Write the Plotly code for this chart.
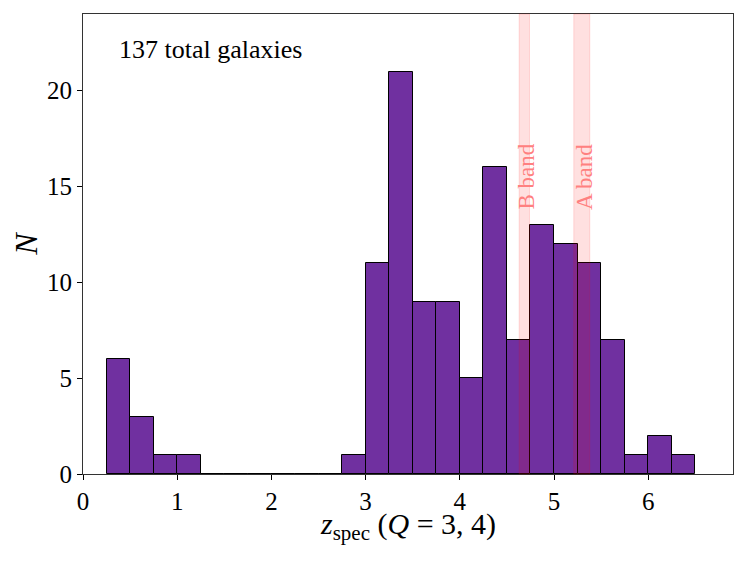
import plotly.graph_objects as go

# Histogram data (bin width 0.25)
bin_left = [0.25, 0.50, 0.75, 1.00, 1.25, 1.50, 1.75, 2.00, 2.25, 2.50, 2.75,
            3.00, 3.25, 3.50, 3.75, 4.00, 4.25, 4.50, 4.75, 5.00, 5.25, 5.50,
            5.75, 6.00, 6.25]
counts = [6, 3, 1, 1, 0, 0, 0, 0, 0, 0, 1,
          11, 21, 9, 9, 5, 16, 7, 13, 12, 11, 7,
          1, 2, 1]
bin_width = 0.25

# Telluric absorption bands (z range)
band_names = ["B band", "A band"]
band_lo = [4.63, 5.21]
band_hi = [4.74, 5.38]
band_label_x = [4.71, 5.33]
band_label_y = 15.5

x_ticks = [0, 1, 2, 3, 4, 5, 6]
y_ticks = [0, 5, 10, 15, 20]
total_text = f"{sum(counts)} total galaxies"

centers = [b + bin_width / 2 for b in bin_left]

fig = go.Figure()
fig.add_trace(go.Bar(
    x=centers, y=counts, width=bin_width,
    marker=dict(color="#7030A0", line=dict(color="#000000", width=1)),
    showlegend=False, hoverinfo="x+y",
))

serif = "Liberation Serif, Times New Roman, serif"

for lo, hi, name, lx in zip(band_lo, band_hi, band_names, band_label_x):
    fig.add_shape(type="rect", xref="x", yref="paper", x0=lo, x1=hi, y0=0, y1=1,
                  fillcolor="rgba(255,0,0,0.12)", line=dict(color="rgba(255,0,0,0.13)", width=1),
                  layer="above")
    fig.add_annotation(x=lx, y=band_label_y, xref="x", yref="y", text=name,
                       textangle=-90, showarrow=False, xanchor="center", yanchor="middle",
                       font=dict(family=serif, size=23, color="#ff8080"))

fig.add_annotation(x=0.053, y=0.958, xref="paper", yref="paper", text=total_text,
                   showarrow=False, xanchor="left", yanchor="top",
                   font=dict(family=serif, size=26, color="#000000"))

# x-axis title as annotation for precise placement
fig.add_annotation(x=0.5, y=0, xref="paper", yref="paper",
                   text="<i>z</i><sub>spec</sub> (<i>Q</i> = 3, 4)",
                   showarrow=False, xanchor="center", yanchor="middle", yshift=-52,
                   borderpad=0,
                   font=dict(family=serif, size=30, color="#000000"))

fig.update_layout(
    width=739, height=553,
    margin=dict(l=75, r=14, t=6, b=87),
    paper_bgcolor="white", plot_bgcolor="white",
    font=dict(family=serif, size=24, color="#000000"),
    bargap=0,
    xaxis=dict(
        range=[0, 6.9], tickvals=x_ticks, ticks="outside", ticklen=5, tickwidth=1,
        tickcolor="#000", showline=True, linecolor="#333", linewidth=1.2, mirror=True,
        showgrid=False, zeroline=False, automargin=False,
        tickfont=dict(family=serif, size=25),
    ),
    yaxis=dict(
        range=[0, 24], tickvals=y_ticks, ticks="outside", ticklen=5, tickwidth=1,
        tickcolor="#000", showline=True, linecolor="#333", linewidth=1.2, mirror=True,
        showgrid=False, zeroline=False, automargin=False,
        tickfont=dict(family=serif, size=25),
        title=dict(text="<i>N</i>", font=dict(family=serif, size=32), standoff=16),
    ),
)

fig.write_html("out.html")
